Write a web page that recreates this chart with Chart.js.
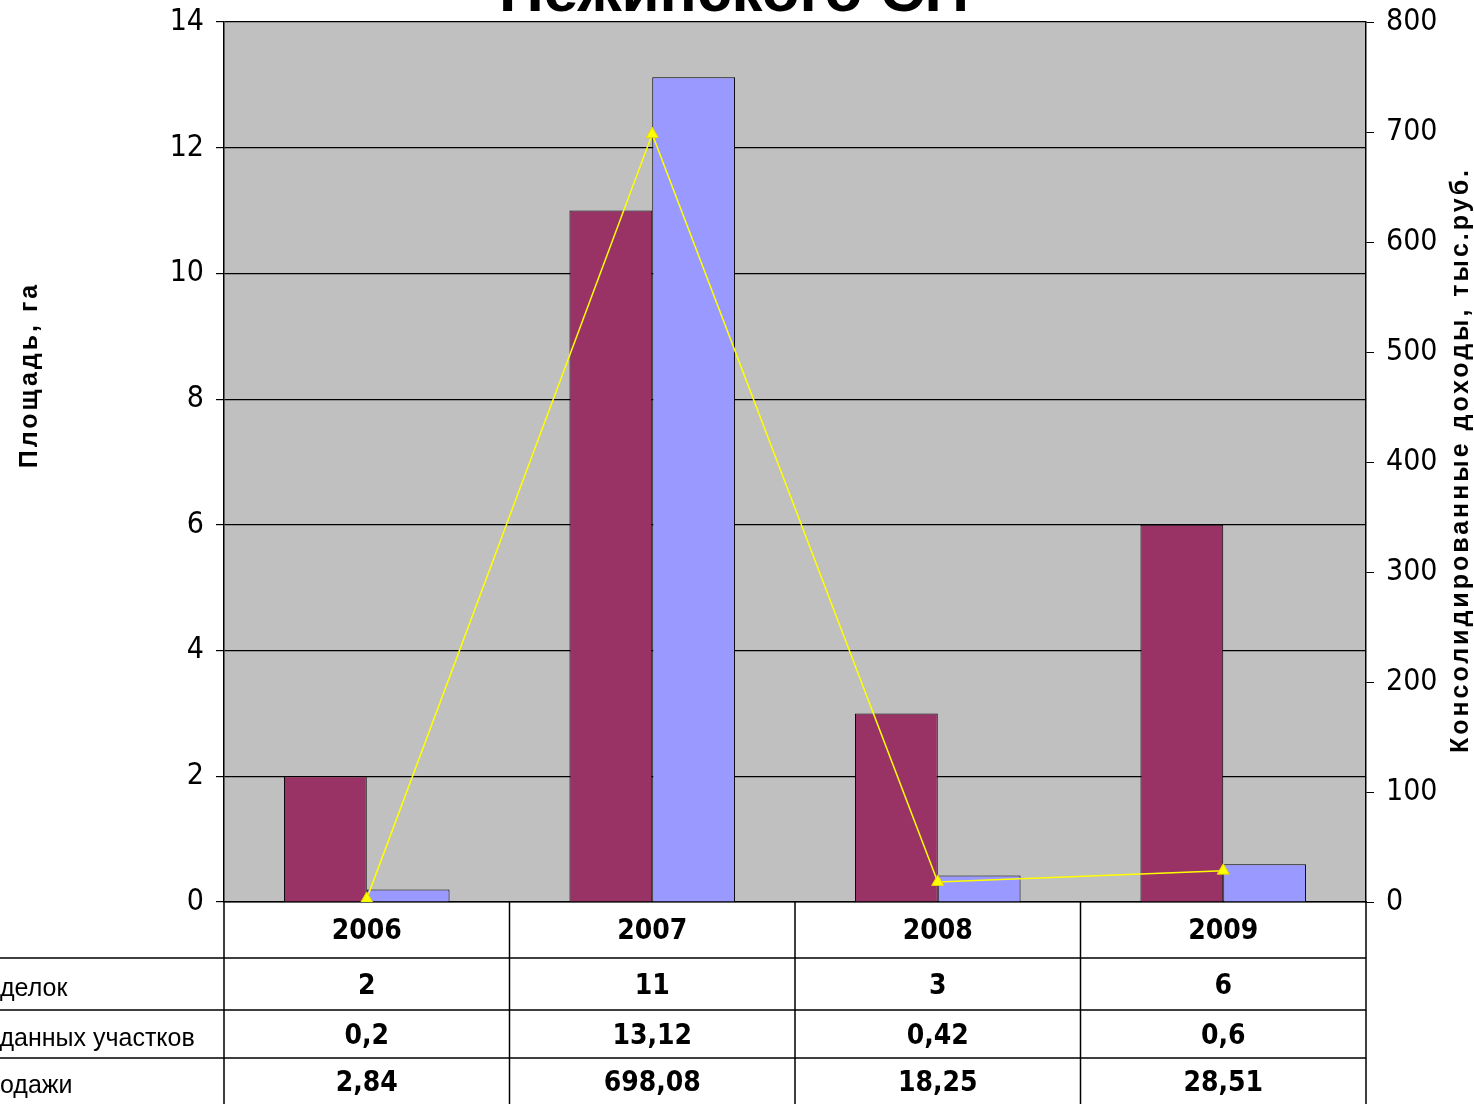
<!DOCTYPE html>
<html>
<head>
<meta charset="utf-8">
<script src="https://cdn.jsdelivr.net/npm/chart.js@4"></script>
<style>
  body { margin: 0; background: #fff; overflow: hidden; }
  canvas { display: block; }
</style>
</head>
<body>
<canvas id="chart" width="1474" height="1104"></canvas>
<script>
// data
const years = ['2006', '2007', '2008', '2009'];
const deals = [2, 11, 3, 6];                   // Количество сделок
const areaHa = [0.2, 13.12, 0.42, 0.6];        // Площадь проданных участков, га
const income = [2.84, 698.08, 18.25, 28.51];   // Доход от продажи, тыс.руб.
const rowLabels = ['Количество сделок', 'Площадь проданных участков', 'Доход от продажи'];
// part of each row label that lies off the left edge in the source
const hiddenPart = ['Количество с', 'Площадь про', 'Доход от пр'];
const titleText = 'Нежинского СП';

const NARROW = "'Liberation Sans Narrow', 'DejaVu Sans Condensed', sans-serif";
const SANS = "'Liberation Sans', Arial, sans-serif";

function fmt(v) {
    return String(v).replace('.', ',');
}

// grey plot background
const plotBg = {
    id: 'plotBg',
    beforeDraw(chart) {
        const a = chart.chartArea;
        const ctx = chart.ctx;
        ctx.save();
        ctx.fillStyle = '#C0C0C0';
        ctx.fillRect(a.left, a.top, a.right - a.left, a.bottom - a.top);
        ctx.restore();
    }
};

// title, axis titles and the data table under the plot
const extras = {
    id: 'extras',
    afterDraw(chart) {
        const ctx = chart.ctx;
        const a = chart.chartArea;
        const x = chart.scales.x;
        ctx.save();

        // title (cut off at the top in the source)
        ctx.fillStyle = '#000';
        ctx.font = 'bold 62px ' + SANS;
        ctx.textAlign = 'center';
        ctx.textBaseline = 'alphabetic';
        ctx.fillText(titleText, 734, 11);

        // axis titles, both read bottom-to-top, slightly spaced out
        ctx.font = 'bold 25px ' + SANS;
        ctx.letterSpacing = '3px';
        ctx.textBaseline = 'middle';
        ctx.save();
        ctx.translate(30, 375);
        ctx.rotate(-Math.PI / 2);
        ctx.fillText('Площадь, га', 0, 0);
        ctx.restore();
        ctx.save();
        ctx.translate(1461, 460);
        ctx.rotate(-Math.PI / 2);
        ctx.fillText('Консолидированные доходы, тыс.руб.', 0, 0);
        ctx.restore();
        ctx.letterSpacing = '0px';

        // table grid
        const rowsY = [a.bottom, 958, 1010, 1058, 1104];
        const half = (x.getPixelForValue(1) - x.getPixelForValue(0)) / 2;
        const cols = years.map((_, i) => x.getPixelForValue(i) - half);
        cols.push(x.getPixelForValue(years.length - 1) + half);
        ctx.strokeStyle = '#000';
        ctx.lineWidth = 1.5;
        ctx.beginPath();
        cols.forEach(c => { ctx.moveTo(c, a.bottom); ctx.lineTo(c, 1104); });
        for (let r = 1; r < 4; r++) {
            ctx.moveTo(0, rowsY[r]);
            ctx.lineTo(a.right, rowsY[r]);
        }
        ctx.stroke();

        // year header
        ctx.textAlign = 'center';
        ctx.textBaseline = 'middle';
        ctx.font = 'bold 28px ' + NARROW;
        years.forEach((y, i) => {
            ctx.fillText(y, x.getPixelForValue(i), (rowsY[0] + rowsY[1]) / 2 + 2);
        });

        // data rows
        const rows = [deals, areaHa, income];
        rows.forEach((vals, r) => {
            const cy = (rowsY[r + 1] + rowsY[r + 2]) / 2 + 3;
            ctx.textAlign = 'center';
            ctx.font = 'bold 28px ' + NARROW;
            vals.forEach((v, i) => ctx.fillText(fmt(v), x.getPixelForValue(i), cy));
            ctx.textAlign = 'left';
            ctx.font = '25px ' + SANS;
            const lx = -ctx.measureText(hiddenPart[r]).width;
            ctx.fillText(rowLabels[r], lx, cy + 2);
        });

        ctx.restore();
    }
};

function noOverflow(s) {
    s.paddingTop = 0;
    s.paddingBottom = 0;
}

const ctx = document.getElementById('chart').getContext('2d');
new Chart(ctx, {
    type: 'bar',
    data: {
        labels: years,
        datasets: [
            {
                type: 'line',
                label: 'Доход от продажи',
                data: income,
                yAxisID: 'y1',
                borderColor: '#FFFF00',
                borderWidth: 1.5,
                backgroundColor: '#FFFF00',
                pointStyle: 'triangle',
                pointRadius: 7,
                pointBackgroundColor: '#FFFF00',
                pointBorderColor: '#E8D800',
                pointBorderWidth: 1,
                tension: 0,
                order: 0
            },
            {
                label: 'Количество сделок',
                data: deals,
                yAxisID: 'y',
                backgroundColor: '#993366',
                borderColor: '#000',
                borderWidth: 1,
                order: 1
            },
            {
                label: 'Площадь проданных участков',
                data: areaHa,
                yAxisID: 'y',
                backgroundColor: '#9999FF',
                borderColor: '#000',
                borderWidth: 1,
                order: 1
            }
        ]
    },
    options: {
        responsive: false,
        animation: false,
        devicePixelRatio: 1,
        barPercentage: 1,
        categoryPercentage: 0.58,
        layout: { padding: { top: 22, left: 0, right: 0, bottom: 0 } },
        plugins: {
            legend: { display: false },
            tooltip: { enabled: false },
            title: { display: false }
        },
        scales: {
            x: {
                offset: true,
                grid: { display: false },
                ticks: { display: false },
                border: { color: '#000', width: 1.5 },
                afterFit(s) { s.height = 202; }
            },
            y: {
                position: 'left',
                min: 0,
                max: 14,
                ticks: {
                    stepSize: 2,
                    color: '#000',
                    padding: 12,
                    font: { family: NARROW, size: 30 }
                },
                grid: { color: '#000', lineWidth: 1.2, tickLength: 8 },
                border: { color: '#000', width: 1.5 },
                afterFit(s) { s.width = 224; noOverflow(s); }
            },
            y1: {
                position: 'right',
                min: 0,
                max: 800,
                ticks: {
                    stepSize: 100,
                    color: '#000',
                    padding: 12,
                    font: { family: NARROW, size: 30 }
                },
                grid: { drawOnChartArea: false, color: '#000', tickLength: 8 },
                border: { color: '#000', width: 1.5 },
                afterFit(s) { s.width = 108; noOverflow(s); }
            }
        }
    },
    plugins: [plotBg, extras]
});
</script>
</body>
</html>
